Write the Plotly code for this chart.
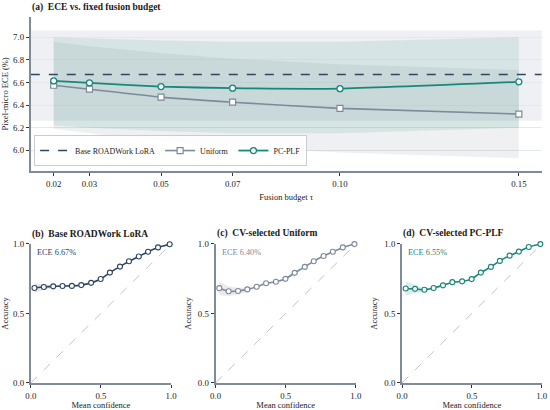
import plotly.graph_objects as go

# (a) ECE vs fusion budget
budgets = [0.02, 0.03, 0.05, 0.07, 0.10, 0.15]
budget_labels = ['0.02', '0.03', '0.05', '0.07', '0.10', '0.15']
base_ece = 6.67
base_lo = 6.26
base_hi = 7.06
uniform_ece = [6.575, 6.54, 6.47, 6.425, 6.37, 6.32]
uniform_lo = [6.19, 6.15, 6.08, 6.03, 5.98, 5.93]
uniform_hi = [6.96, 6.92, 6.86, 6.81, 6.76, 6.71]
pcplf_ece = [6.613, 6.596, 6.563, 6.549, 6.545, 6.605]
pcplf_lo = [6.22, 6.20, 6.17, 6.15, 6.15, 6.20]
pcplf_hi = [7.00, 6.99, 6.97, 6.96, 6.96, 7.00]

# (b)-(d) reliability diagrams, 15 bins
conf = [0.026, 0.093, 0.16, 0.226, 0.293, 0.36, 0.43, 0.498, 0.564, 0.636, 0.70, 0.77, 0.836, 0.907, 0.99]
acc_base = [0.683, 0.690, 0.695, 0.697, 0.698, 0.704, 0.720, 0.748, 0.794, 0.837, 0.875, 0.910, 0.944, 0.975, 0.998]
acc_uniform = [0.682, 0.660, 0.661, 0.673, 0.692, 0.717, 0.728, 0.749, 0.792, 0.835, 0.876, 0.913, 0.944, 0.975, 0.999]
acc_pcplf = [0.680, 0.677, 0.670, 0.683, 0.702, 0.725, 0.731, 0.747, 0.794, 0.835, 0.878, 0.916, 0.945, 0.978, 0.999]
ci_base = [0.035, 0.02, 0.01, 0.004, 0.002, 0, 0, 0, 0, 0, 0, 0, 0, 0, 0]
ci_uniform = [0.05, 0.035, 0.025, 0.015, 0.01, 0.008, 0.006, 0.004, 0.002, 0, 0, 0, 0, 0, 0]
ci_pcplf = [0.05, 0.03, 0.015, 0.006, 0.003, 0, 0, 0, 0, 0, 0, 0, 0, 0, 0]

NAVY = '#2f4560'
GREY = '#7d8a9b'
TEAL = '#17877a'
SPINE = '#7f8b99'
FONT = 'Liberation Serif'

fig = go.Figure()

# bands for (a)
fig.add_trace(go.Scatter(x=budgets, y=uniform_lo, mode='lines', line=dict(width=0), showlegend=False,
                         hoverinfo='skip', xaxis='x', yaxis='y'))
fig.add_trace(go.Scatter(x=budgets, y=uniform_hi, mode='lines', line=dict(width=0), fill='tonexty',
                         fillcolor='rgba(125,138,155,0.13)', showlegend=False, hoverinfo='skip'))
fig.add_trace(go.Scatter(x=budgets, y=pcplf_lo, mode='lines', line=dict(width=0), showlegend=False,
                         hoverinfo='skip'))
fig.add_trace(go.Scatter(x=budgets, y=pcplf_hi, mode='lines', line=dict(width=0), fill='tonexty',
                         fillcolor='rgba(30,135,122,0.11)', showlegend=False, hoverinfo='skip'))

# base reference line (spans the full axis)
fig.add_trace(go.Scatter(x=[0.0136, 0.1564], y=[base_ece, base_ece], mode='lines',
                         line=dict(color=NAVY, width=1.6, dash='dash'), name='Base ROADWork LoRA'))
fig.add_trace(go.Scatter(x=budgets, y=uniform_ece, mode='lines+markers', name='Uniform',
                         line=dict(color=GREY, width=1.6, shape='spline', smoothing=0.5),
                         marker=dict(symbol='square', size=6, color='white', line=dict(color=GREY, width=1.2))))
fig.add_trace(go.Scatter(x=budgets, y=pcplf_ece, mode='lines+markers', name='PC-PLF',
                         line=dict(color=TEAL, width=1.8, shape='spline', smoothing=0.5),
                         marker=dict(symbol='circle', size=6, color='white', line=dict(color=TEAL, width=1.3))))

# reliability panels
panels = [
    ('x2', 'y2', acc_base, ci_base, NAVY, 'rgba(125,138,155,0.22)', 'ECE 6.67%'),
    ('x3', 'y3', acc_uniform, ci_uniform, GREY, 'rgba(125,138,155,0.18)', 'ECE 6.40%'),
    ('x4', 'y4', acc_pcplf, ci_pcplf, TEAL, 'rgba(30,135,122,0.16)', 'ECE 6.55%'),
]
for xa, ya, acc, ci, col, fillc, label in panels:
    fig.add_trace(go.Scatter(x=[0, 1], y=[0, 1], mode='lines', xaxis=xa, yaxis=ya, showlegend=False,
                             line=dict(color='#b5bcc5', width=0.9, dash='dash'), hoverinfo='skip'))
    fig.add_trace(go.Scatter(x=conf, y=[a - c for a, c in zip(acc, ci)], mode='lines', xaxis=xa, yaxis=ya,
                             line=dict(width=0, shape='spline'), showlegend=False, hoverinfo='skip'))
    fig.add_trace(go.Scatter(x=conf, y=[a + c for a, c in zip(acc, ci)], mode='lines', xaxis=xa, yaxis=ya,
                             line=dict(width=0, shape='spline'), fill='tonexty', fillcolor=fillc,
                             showlegend=False, hoverinfo='skip'))
    fig.add_trace(go.Scatter(x=conf, y=acc, mode='lines+markers', xaxis=xa, yaxis=ya, showlegend=False,
                             cliponaxis=False,
                             line=dict(color=col, width=1.6, shape='spline', smoothing=0.5),
                             marker=dict(symbol='circle', size=5, color='white', line=dict(color=col, width=1.1))))
    fig.add_annotation(x=0.03, y=0.94, xref=xa + ' domain', yref=ya + ' domain', text=label,
                       showarrow=False, xanchor='left', yanchor='middle',
                       font=dict(family=FONT, size=8.3, color=col))

# base CI band across whole axis
fig.add_shape(type='rect', xref='x domain', yref='y', x0=0, x1=1, y0=base_lo, y1=base_hi,
              fillcolor='#eef0f3', line=dict(width=0), layer='below')

axis_common = dict(showline=True, linecolor=SPINE, linewidth=2, ticks='outside', ticklen=3,
                   tickcolor='#333333', tickfont=dict(family=FONT, size=8.8, color='#222222'),
                   zeroline=False, automargin=False)

fig.update_layout(
    width=550, height=410,
    margin=dict(l=0, r=0, t=0, b=0),
    paper_bgcolor='white', plot_bgcolor='rgba(0,0,0,0)',
    font=dict(family=FONT, size=8.8, color='#222222'),
    xaxis=dict(domain=[0.056, 0.985], range=[0.0136, 0.1564], tickvals=budgets, ticktext=budget_labels,
               showgrid=False, title=dict(text='Fusion budget τ', font=dict(family=FONT, size=8.5), standoff=7),
               anchor='y', **axis_common),
    yaxis=dict(domain=[0.583, 0.959], range=[5.817, 7.18], tickvals=[6.0, 6.2, 6.4, 6.6, 6.8, 7.0],
               ticktext=['6.0', '6.2', '6.4', '6.6', '6.8', '7.0'], showgrid=True, gridcolor='#e4e7eb',
               gridwidth=0.8, anchor='x',
               title=dict(text='Pixel-micro ECE (%)', font=dict(family=FONT, size=8.5), standoff=6),
               **axis_common),
    legend=dict(x=0.062, y=0.595, xanchor='left', yanchor='bottom', orientation='h', traceorder='normal',
                bgcolor='rgba(255,255,255,0.85)', bordercolor='#c8cdd3', borderwidth=1,
                font=dict(family=FONT, size=8, color='#222222'), itemwidth=30, tracegroupgap=0),
)

bottom_domains = [[0.056, 0.311], [0.392, 0.647], [0.731, 0.985]]
for i, dom in enumerate(bottom_domains):
    n = i + 2
    fig.layout['xaxis%d' % n] = dict(domain=dom, range=[0, 1], tickvals=[0, 0.5, 1],
                                     ticktext=['0.0', '0.5', '1.0'], showgrid=False, anchor='y%d' % n,
                                     title=dict(text='Mean confidence', font=dict(family=FONT, size=8.5),
                                                standoff=5),
                                     **axis_common)
    fig.layout['yaxis%d' % n] = dict(domain=[0.066, 0.405], range=[0, 1], tickvals=[0, 0.5, 1],
                                     ticktext=['0.0', '0.5', '1.0'], showgrid=False, anchor='x%d' % n,
                                     title=dict(text='Accuracy', font=dict(family=FONT, size=8.5), standoff=5),
                                     **axis_common)

titles = [
    (30, 7, '<b>(a)  ECE vs. fixed fusion budget</b>'),
    (30, 235, '<b>(b)  Base ROADWork LoRA</b>'),
    (215, 234, '<b>(c)  CV-selected Uniform</b>'),
    (401, 234, '<b>(d)  CV-selected PC-PLF</b>'),
]
for px, py, txt in titles:
    fig.add_annotation(x=px / 550, y=1 - py / 410, xref='paper', yref='paper', text=txt, showarrow=False,
                       xanchor='left', yanchor='middle', font=dict(family=FONT, size=9.5, color='#1a1a1a'))

# page body has a default margin; drop it so the figure sits at the window corner
fig.write_html('out.html', config={'displayModeBar': False},
               post_script="document.body.style.margin='0';")
